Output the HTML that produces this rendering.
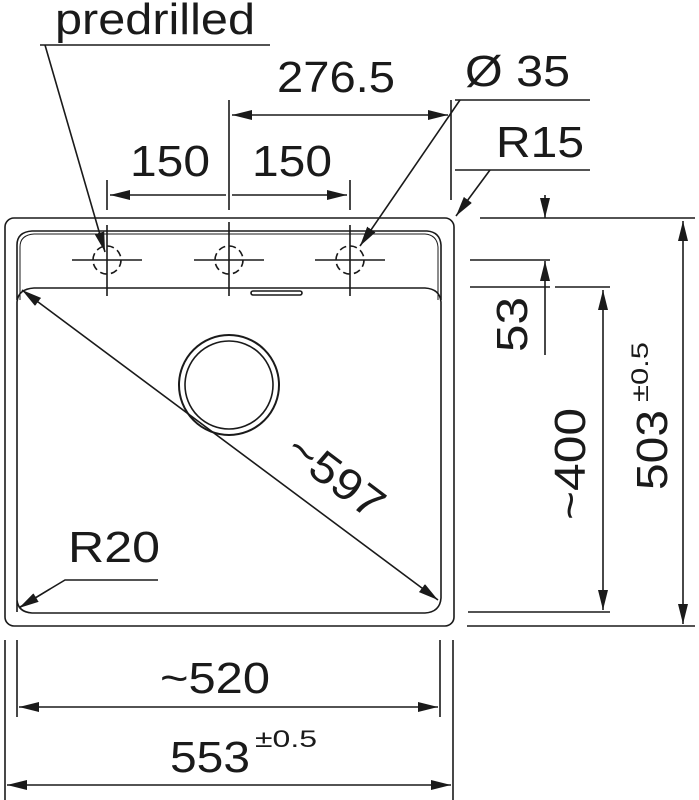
<!DOCTYPE html><html><head><style>body{margin:0;background:#fff}svg{display:block}text{font-family:"Liberation Sans",Arial,sans-serif;fill:#1a1a1a}</style></head><body>
<svg width="699" height="800" viewBox="0 0 699 800" xmlns="http://www.w3.org/2000/svg">
<defs><marker id="a" viewBox="0 0 20 10" refX="20" refY="5" markerWidth="20" markerHeight="10" markerUnits="userSpaceOnUse" orient="auto-start-reverse"><path d="M0,0L20,5L0,10z" fill="#1a1a1a"/></marker></defs>
<g stroke="#1a1a1a" fill="none" stroke-width="1.6">
<rect x="5" y="218" width="449" height="408" rx="9"/>
<path d="M17,300 V245 Q17,232 32,231 H427 Q440,232 441,245 V300"/>
<path d="M20,300 V247 Q20,235 34,234 H425 Q437,235 438,247 V300" stroke-width="1"/>
<path d="M17,612 V302 Q18,289 34,288 H425 Q440,289 441,302 V598 Q440,612 425,613 H32 Q18,612 17,600" />
<rect x="251" y="291" width="51" height="4" rx="2"/>
<circle cx="229" cy="385" r="50" stroke-width="2"/><circle cx="229" cy="385" r="44"/>
<g stroke-dasharray="7,4"><circle cx="107" cy="260" r="14"/><circle cx="229" cy="260" r="14"/><circle cx="350" cy="260" r="14"/></g>
<path d="M72,260H142M107,225V296M194,260H264M229,222V296M315,260H385M350,225V296"/>
<path d="M107,180V210M229,100V210M350,180V210M451,100V200"/>
<path d="M110,195H226M232,195H347" marker-start="url(#a)" marker-end="url(#a)"/>
<path d="M232,115H448" marker-start="url(#a)" marker-end="url(#a)"/>
<path d="M40,45H270M455,100H590M455,170H590"/>
<path d="M45,45L105,252" marker-end="url(#a)"/>
<path d="M460,100L360,246" marker-end="url(#a)"/>
<path d="M490,170L456,216" marker-end="url(#a)"/>
<path d="M22,290L438,600" marker-start="url(#a)" marker-end="url(#a)"/>
<path d="M158,580H65L20,607" /><path d="M50,589L19,608" marker-end="url(#a)"/>
<path d="M480,218H695M470,260H550M470,287H550M555,287H610M468,612H610M467,626H695"/>
<path d="M545,195V218" marker-end="url(#a)"/><path d="M545,355V261" marker-end="url(#a)"/>
<path d="M603,290V610" marker-start="url(#a)" marker-end="url(#a)"/>
<path d="M683,221V624" marker-start="url(#a)" marker-end="url(#a)"/>
<path d="M17,640V717M440,640V717M5,640V800M453,640V800"/>
<path d="M19,707H438" marker-start="url(#a)" marker-end="url(#a)"/>
<path d="M7,785H451" marker-start="url(#a)" marker-end="url(#a)"/>
</g>
<g font-size="44">
<text x="55" y="34" textLength="200" lengthAdjust="spacingAndGlyphs">predrilled</text>
<text x="277" y="92" textLength="118" lengthAdjust="spacingAndGlyphs">276.5</text>
<text x="465" y="86" textLength="105" lengthAdjust="spacingAndGlyphs">Ø 35</text>
<text x="130" y="176" textLength="80" lengthAdjust="spacingAndGlyphs">150</text>
<text x="252" y="176" textLength="80" lengthAdjust="spacingAndGlyphs">150</text>
<text x="496" y="157" textLength="88" lengthAdjust="spacingAndGlyphs">R15</text>
<text x="68" y="562" textLength="92" lengthAdjust="spacingAndGlyphs">R20</text>
<text x="160" y="693" textLength="110" lengthAdjust="spacingAndGlyphs">~520</text>
<text x="170" y="772" textLength="80" lengthAdjust="spacingAndGlyphs">553</text>
<text transform="translate(283,455) rotate(37)" textLength="110" lengthAdjust="spacingAndGlyphs">~597</text>
<text transform="translate(527,352) rotate(-90)" textLength="55" lengthAdjust="spacingAndGlyphs">53</text>
<text transform="translate(585,520) rotate(-90)" textLength="112" lengthAdjust="spacingAndGlyphs">~400</text>
<text transform="translate(667,490) rotate(-90)" textLength="80" lengthAdjust="spacingAndGlyphs">503</text>
</g>
<g font-size="24">
<text x="255" y="747" textLength="62" lengthAdjust="spacingAndGlyphs">±0.5</text>
<text transform="translate(648,402) rotate(-90)" textLength="60" lengthAdjust="spacingAndGlyphs">±0.5</text>
</g>
</svg></body></html>
